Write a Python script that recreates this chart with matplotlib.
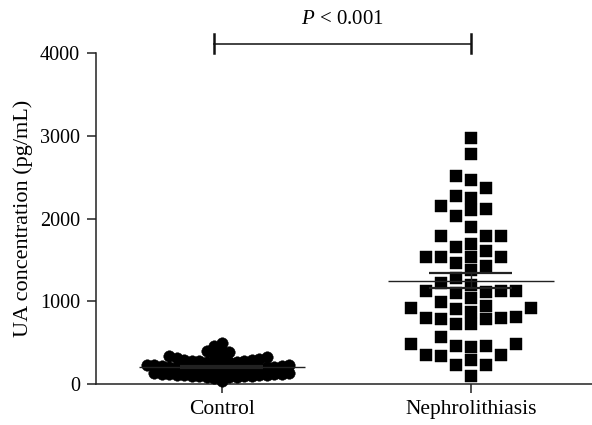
import numpy as np
import matplotlib
matplotlib.use("Agg")
import matplotlib.pyplot as plt

plt.rcParams['font.family'] = ['Liberation Serif', 'DejaVu Serif']
plt.rcParams['mathtext.fontset'] = 'custom'
plt.rcParams['mathtext.it'] = 'Liberation Serif:italic'
plt.rcParams['mathtext.rm'] = 'Liberation Serif'

groups = ["Control", "Nephrolithiasis"]
y_ticks = [0, 1000, 2000, 3000, 4000]
p_text = r"$P$ < 0.001"

control = [492, 459, 402, 400, 383, 359, 342, 323, 310,
           305, 298, 292, 288, 283, 279, 275, 270, 266, 262, 258,
           232, 228, 224, 221, 218, 214, 211, 208, 205, 202, 199,
           196, 193, 190, 187, 184, 181, 178, 175, 172,
           135, 131, 127, 124, 121, 118, 115, 112, 109, 106,
           103, 100, 97, 94, 91, 88, 85, 82, 78, 40]

stones = [2981, 2788, 2372, 2103, 1894, 1659, 1466, 1285, 1096, 903, 725,
          463, 290, 97,
          2465, 2151, 2034, 1789, 1539, 1430, 1116, 922, 725, 483, 350, 230,
          2276, 1789, 1539, 1128, 995, 782, 342,
          1607, 1196, 801, 463,
          874,
          2514, 2111, 1692, 1539, 1378, 1128, 915, 782, 483, 350, 230,
          2256, 1789, 1539, 1128, 943, 801, 564, 451,
          1217, 1043, 813]


def swarm_offsets(ax, vals, step_px, dmin_px):
    """grid-like swarm, offsets returned in data units"""
    p0 = ax.transData.transform((0, 0))
    p1 = ax.transData.transform((1, 1))
    sx = p1[0] - p0[0]
    sy = p1[1] - p0[1]
    order = np.argsort(vals)
    placed = []
    offs = np.zeros(len(vals))
    for i in order:
        y = vals[i] * sy
        k = 0
        while True:
            for sign in ([1] if k == 0 else [-1, 1]):
                x = sign * k * step_px
                ok = all((x - px) ** 2 + (y - py) ** 2 >= dmin_px ** 2
                         for px, py in placed)
                if ok:
                    break
            if ok:
                break
            k += 1
        placed.append((x, y))
        offs[i] = x / sx
    return offs


def main():
    fig = plt.figure(figsize=(5.92, 4.25), dpi=100)
    ax = fig.add_axes([0.162, 0.0965, 0.838, 0.778])
    ax.set_xlim(-0.505, 1.487)
    ax.set_ylim(0, 4000)

    data = [np.array(control, float), np.array(stones, float)]
    markers = ['o', 's']
    sizes = [8.3, 8.4]
    steps = [7.5, 15]
    dmins = [7.0, 12]

    for i, vals in enumerate(data):
        offs = swarm_offsets(ax, vals, steps[i], dmins[i])
        ax.plot(i + offs, vals, linestyle='none', marker=markers[i],
                ms=sizes[i], color='black', mec='black', mew=0.3,
                clip_on=False, zorder=3)
        m = vals.mean()
        sem = vals.std(ddof=1) / np.sqrt(len(vals))
        ax.hlines(m, i - 0.333, i + 0.333, color='#222222', lw=1.0, zorder=4)
        ax.hlines([m - sem, m + sem], i - 0.167, i + 0.167,
                  color='#222222', lw=1.6, zorder=4)
        ax.vlines(i, m - sem, m + sem, color='#222222', lw=1.0, zorder=4)

    ax.spines['top'].set_visible(False)
    ax.spines['right'].set_visible(False)
    for s in ['left', 'bottom']:
        ax.spines[s].set_linewidth(1.1)
        ax.spines[s].set_color('#222222')

    ax.set_xticks([0, 1])
    ax.set_xticklabels(groups, fontsize=15.5)
    ax.set_yticks(y_ticks)
    ax.set_yticklabels([str(t) for t in y_ticks], fontsize=14.5)
    ax.tick_params(length=6.5, width=1.1, color='#222222', pad=5)
    ax.set_ylabel('UA concentration (pg/mL)', fontsize=16, labelpad=5)

    # significance bracket
    x0, x1, yb = -0.031, 1.0, 4109
    ax.plot([x0, x1], [yb, yb], color='#222222', lw=1.2, clip_on=False)
    ax.plot([x0, x0], [4006, 4230], color='#111111', lw=1.8, clip_on=False)
    ax.plot([x1, x1], [4006, 4230], color='#111111', lw=1.8, clip_on=False)
    ax.text((x0 + x1) / 2, 4411, p_text, ha='center', va='center',
            fontsize=15)

    fig.savefig("out.png", dpi=100)


if __name__ == "__main__":
    main()
